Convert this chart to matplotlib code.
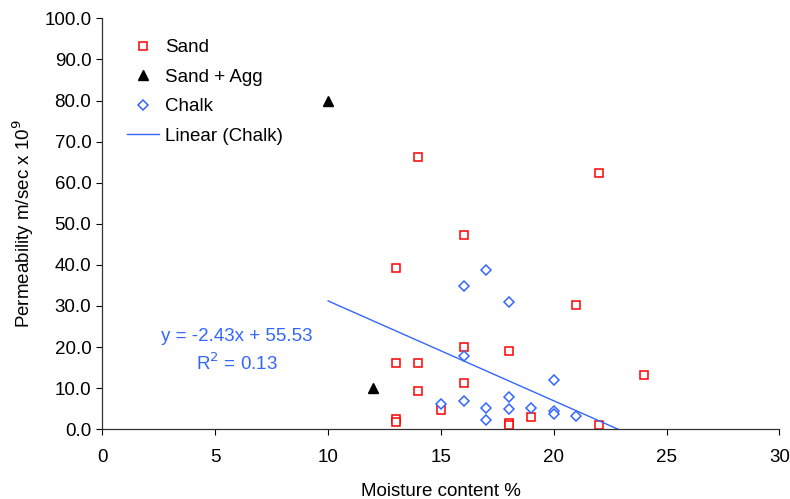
import matplotlib
matplotlib.use("Agg")
import matplotlib.pyplot as plt
import numpy as np

plt.rcParams['font.family'] = ['Liberation Sans', 'DejaVu Sans']

# Data
sand_x = [14, 22, 16, 13, 21, 16, 18, 13, 14, 24, 16, 14, 15, 19, 13, 13, 18, 18, 22]
sand_y = [66.2, 62.3, 47.2, 39.2, 30.2, 20.0, 19.1, 16.1, 16.1, 13.1, 11.2, 9.3, 4.6, 3.0, 2.4, 1.7, 1.5, 1.0, 1.1]

agg_x = [10, 12]
agg_y = [80.0, 10.0]

chalk_x = [17, 16, 18, 16, 20, 18, 16, 15, 17, 18, 19, 20, 20, 21, 17]
chalk_y = [38.8, 34.9, 30.9, 17.8, 12.0, 7.8, 6.8, 6.1, 5.2, 4.9, 5.2, 4.5, 3.8, 3.2, 2.2]

trend_slope = -2.43
trend_intercept = 55.53
trend_r2 = 0.13
trend_range = [10, 24]

x_ticks = [0, 5, 10, 15, 20, 25, 30]
y_ticks = [0, 10, 20, 30, 40, 50, 60, 70, 80, 90, 100]

blue = '#3366FF'
fs = 13.5

fig = plt.figure(figsize=(7.9, 4.99), dpi=100)
ax = fig.add_axes([0.1297, 0.1397, 0.8570, 0.8236])

ax.plot(sand_x, sand_y, linestyle='none', marker='s', markersize=5.3,
        markerfacecolor='white', markeredgecolor='#FF0000', markeredgewidth=1.1,
        label='Sand')
ax.plot(agg_x, agg_y, linestyle='none', marker='^', markersize=7,
        markerfacecolor='black', markeredgecolor='black', label='Sand + Agg')
ax.plot(chalk_x, chalk_y, linestyle='none', marker='D', markersize=5,
        markerfacecolor='white', markeredgecolor=blue, markeredgewidth=1.1,
        label='Chalk')
tx = np.linspace(trend_range[0], trend_range[1], 100)
ax.plot(tx, trend_slope * tx + trend_intercept, color=blue, linewidth=1.0,
        label='Linear (Chalk)')

ax.set_xlim(0, 30)
ax.set_ylim(0, 100)
ax.set_xticks(x_ticks)
ax.set_yticks(y_ticks)
ax.set_yticklabels([f"{v:.1f}" for v in y_ticks])
ax.tick_params(axis='both', direction='out', length=4, width=0.8, labelsize=fs,
               colors='black', pad=4)
ax.tick_params(axis='x', pad=10.5)
for s in ['top', 'right']:
    ax.spines[s].set_visible(False)
for s in ['left', 'bottom']:
    ax.spines[s].set_color('#333333')
    ax.spines[s].set_linewidth(0.9)

ax.set_xlabel('Moisture content %', fontsize=fs, labelpad=12)
ax.set_ylabel('Permeability m/sec x 10$^{9}$', fontsize=fs, labelpad=6)

eq = f"y = {trend_slope:.2f}x + {trend_intercept:.2f}"
ax.text(5.95, 22.6, eq, color=blue, fontsize=fs, ha='center', va='center')
ax.text(5.95, 16.1, f"R$^{{2}}$ = {trend_r2:.2f}", color=blue, fontsize=fs,
        ha='center', va='center')

leg = ax.legend(loc='upper left', bbox_to_anchor=(0.025, 0.968), frameon=False,
                fontsize=fs, handlelength=1.7, labelspacing=0.66,
                handletextpad=0.33, numpoints=1, borderaxespad=0)

fig.savefig('out.png', dpi=100)
